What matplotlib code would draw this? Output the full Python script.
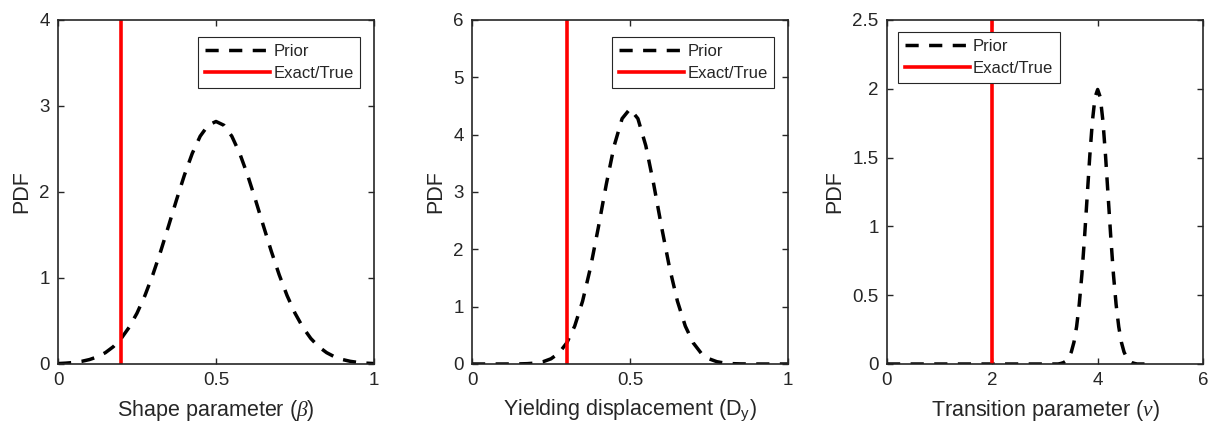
import numpy as np
import matplotlib
matplotlib.use('Agg')
import matplotlib.pyplot as plt

plt.rcParams['font.family'] = ['Liberation Sans', 'DejaVu Sans']
plt.rcParams['mathtext.fontset'] = 'custom'
plt.rcParams['mathtext.rm'] = 'Liberation Sans'
plt.rcParams['mathtext.it'] = 'Liberation Serif:italic'

# Prior PDFs
x1 = np.linspace(0, 1, 41)
y1 = [0.005, 0.010, 0.018, 0.031, 0.052, 0.084, 0.132, 0.201, 0.297, 0.426,
      0.591, 0.795, 1.037, 1.311, 1.607, 1.908, 2.196, 2.450, 2.649, 2.776,
      2.820,
      2.776, 2.649, 2.450, 2.196, 1.908, 1.607, 1.311, 1.037, 0.795, 0.591,
      0.426, 0.297, 0.201, 0.132, 0.084, 0.052, 0.031, 0.018, 0.010, 0.005]

x2 = np.linspace(0, 1, 41)
y2 = [0.0, 0.0, 0.0, 0.0, 0.0002, 0.0007, 0.002, 0.006, 0.016, 0.040,
      0.091, 0.190, 0.369, 0.661, 1.097, 1.682, 2.387, 3.135, 3.808, 4.280,
      4.450,
      4.280, 3.808, 3.135, 2.387, 1.682, 1.097, 0.661, 0.369, 0.190, 0.091,
      0.040, 0.016, 0.006, 0.002, 0.0007, 0.0002, 0.0, 0.0, 0.0, 0.0]

x3 = np.linspace(0, 5, 101)
y3_peak = [0.004, 0.010, 0.022, 0.046, 0.088, 0.159, 0.271, 0.433, 0.649, 0.916,
           1.213, 1.510, 1.765, 1.938, 1.995, 1.938, 1.765, 1.510, 1.213, 0.916,
           0.649, 0.433, 0.271, 0.159, 0.088, 0.046, 0.022, 0.010, 0.004]
y3 = np.concatenate([np.zeros(66), y3_peak, np.zeros(6)])

true_vals = [0.2, 0.3, 2.0]
xlabels = [r'Shape parameter ($\beta$)',
           r'Yielding displacement (D$_{\mathrm{y}}$)',
           r'Transition parameter ($\nu$)']
xlims = [(0, 1), (0, 1), (0, 6)]
ylims = [(0, 4), (0, 6), (0, 2.5)]
xticks = [[0, 0.5, 1], [0, 0.5, 1], [0, 2, 4, 6]]
yticks = [[0, 1, 2, 3, 4], [0, 1, 2, 3, 4, 5, 6], [0, 0.5, 1, 1.5, 2, 2.5]]
tick_labels_y = [['0', '1', '2', '3', '4'],
                 ['0', '1', '2', '3', '4', '5', '6'],
                 ['0', '0.5', '1', '1.5', '2', '2.5']]
tick_labels_x = [['0', '0.5', '1'], ['0', '0.5', '1'], ['0', '2', '4', '6']]
curves = [(x1, y1), (x2, y2), (x3, y3)]

W, H = 1210, 429
fig = plt.figure(figsize=(W / 100, H / 100), dpi=100)
lefts = [58, 472, 887]
txt = '#262626'

for i in range(3):
    ax = fig.add_axes([lefts[i] / W, (H - 364) / H, 316 / W, 344 / H])
    xs, ys = curves[i]
    ax.plot(xs, ys, color='k', lw=2.5, ls=(0, (3.8, 3.0)), label='Prior')
    ax.axvline(true_vals[i], color='#ff0000', lw=2.6, label='Exact/True')
    ax.set_xlim(*xlims[i])
    ax.set_ylim(*ylims[i])
    ax.set_xticks(xticks[i])
    ax.set_xticklabels(tick_labels_x[i])
    ax.set_yticks(yticks[i])
    ax.set_yticklabels(tick_labels_y[i])
    ax.tick_params(direction='in', length=4, width=1, top=True, right=True,
                   labelsize=13.5, colors=txt, pad=6)
    for s in ax.spines.values():
        s.set_linewidth(1.2)
        s.set_color(txt)
    ax.set_xlabel(xlabels[i], fontsize=15.5, color=txt, labelpad=6)
    ax.set_ylabel('PDF', fontsize=15.5, color=txt, labelpad=5)
    if i < 2:
        anchor, loc = (0.956, 0.951), 'upper right'
    else:
        anchor, loc = (0.035, 0.965), 'upper left'
    leg = ax.legend(loc=loc, bbox_to_anchor=anchor,
                    borderaxespad=0, fontsize=12, handlelength=3.9,
                    fancybox=False, framealpha=1, edgecolor='#262626',
                    borderpad=0.4, handletextpad=0.2, labelspacing=0.45)
    leg.get_frame().set_linewidth(0.8)
    for t in leg.get_texts():
        t.set_color(txt)

fig.savefig('out.png', dpi=100)
